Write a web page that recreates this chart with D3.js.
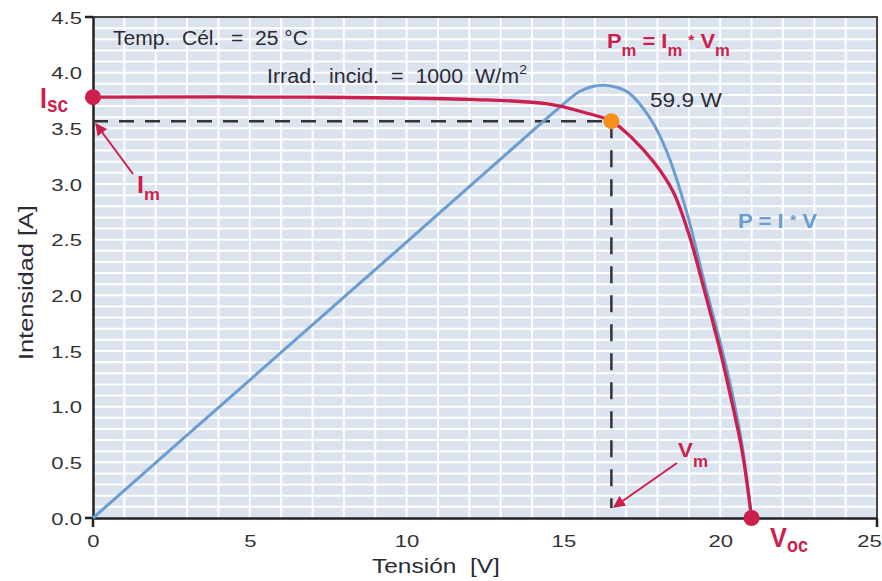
<!DOCTYPE html>
<html><head><meta charset="utf-8">
<script src="https://cdn.jsdelivr.net/npm/d3@7/dist/d3.min.js"></script>
<style>
html,body{margin:0;padding:0;background:#fff;}
svg{display:block;font-family:"Liberation Sans",Arial,Helvetica,sans-serif;}
text{white-space:pre;}
</style></head><body>
<svg id="chart" width="882" height="581"></svg>
<script>
// ---- data ----
const xTicks = [0, 5, 10, 15, 20, 25];
const yTicks = [0, 0.5, 1.0, 1.5, 2.0, 2.5, 3.0, 3.5, 4.0, 4.5];
// I-V curve (red): voltage [V], current [A]
const ivVoltage = [0, 7, 12, 14.5, 15.7, 16.53, 17.2, 17.9, 18.5, 19.0, 19.5, 20.0, 20.35, 20.7, 21.0];
const ivCurrent = [3.78, 3.78, 3.76, 3.72, 3.64, 3.564, 3.41, 3.19, 2.93, 2.55, 2.04, 1.50, 1.07, 0.60, 0];
// P-V curve (blue): voltage [V], power [W]
const pvVoltage = [0, 5, 10, 13.6, 14.87, 15.5, 15.9, 16.3, 16.7, 17.1, 17.74, 18.28, 18.92, 19.5, 20.0, 20.35, 20.7, 21.0];
const pvPower = [0, 19.1, 38.2, 52.0, 56.8, 59.0, 59.7, 59.9, 59.6, 58.8, 55.5, 50.9, 42.5, 32.5, 24.3, 17.9, 10.0, 0];
const powerPerAmpUnit = 15.41; // W drawn per unit of the current axis
const Isc = 3.78, Voc = 21.0, Im = 3.564, Vm = 16.53, Pmax = 59.9;

const RED = "#cc1f4e", BLUE = "#6c9dd0", ORANGE = "#f7901e", TXT = "#2b2b36";
const SX = 1.3; // horizontal stretch of the lettering

const svg = d3.select("#chart");
const x = d3.scaleLinear().domain([0, 25]).range([93, 877]);
const y = d3.scaleLinear().domain([0, 4.5]).range([518, 17]);
const yP = d3.scaleLinear().domain([0, 4.5 * powerPerAmpUnit]).range([518, 17]);

// background
svg.append("rect").attr("x", x(0)).attr("y", y(4.5)).attr("width", x(25) - x(0)).attr("height", y(0) - y(4.5)).attr("fill", "#dbe3ee");
// grid
const g = svg.append("g");
g.selectAll("line.v").data(d3.range(1, 25)).join("line")
  .attr("x1", d => x(d)).attr("x2", d => x(d)).attr("y1", y(0)).attr("y2", y(4.5))
  .attr("stroke", "#fff").attr("stroke-width", 2);
g.selectAll("line.h").data(d3.range(1, 45).map(d => d / 10)).join("line")
  .attr("y1", d => y(d)).attr("y2", d => y(d)).attr("x1", x(0)).attr("x2", x(25))
  .attr("stroke", "#fff").attr("stroke-width", 2);

// frame
svg.append("line").attr("x1", x(0)).attr("x2", x(25) + 1).attr("y1", y(4.5)).attr("y2", y(4.5)).attr("stroke", "#444").attr("stroke-width", 2);
svg.append("line").attr("x1", x(25)).attr("x2", x(25)).attr("y1", y(4.5)).attr("y2", y(0)).attr("stroke", "#444").attr("stroke-width", 2);

// axes
const ax = svg.append("g").attr("transform", `translate(0,${y(0)})`)
  .call(d3.axisBottom(x).tickValues(xTicks).tickSize(0).tickFormat(d3.format("d")));
const ay = svg.append("g").attr("transform", `translate(${x(0)},0)`)
  .call(d3.axisLeft(y).tickValues(yTicks).tickSize(0).tickFormat(d3.format(".1f")));
[ax, ay].forEach(a => {
  a.select(".domain").attr("stroke", "#222").attr("stroke-width", 2.5);
  a.selectAll("text").attr("font-size", 17).attr("fill", "#333").attr("font-family", "Liberation Sans, Arial, sans-serif");
});
ax.selectAll(".tick text").attr("y", 0).attr("dy", 0)
  .attr("transform", d => `translate(${d === 25 ? -8 : 0},29) scale(${SX},1)`);
ay.selectAll(".tick text").attr("x", 0).attr("dy", "0.36em")
  .attr("transform", `translate(-11,0) scale(${SX},1)`);

// end ticks
[0, 25].forEach(v => svg.append("line").attr("x1", x(v)).attr("x2", x(v)).attr("y1", y(0)).attr("y2", y(0) + 9).attr("stroke", "#222").attr("stroke-width", 2.5));
[0, 4.5].forEach(v => svg.append("line").attr("x1", x(0) - 8).attr("x2", x(0)).attr("y1", y(v)).attr("y2", y(v)).attr("stroke", "#222").attr("stroke-width", 2.5));

// text helper: parts = [{t, size, dy}], stretched horizontally to targetW
function label(parts, x0, y0, targetW, color, weight, rotate) {
  const grp = svg.append("g");
  const tx = grp.append("text").attr("fill", color).attr("font-weight", weight || "normal");
  parts.forEach(p => tx.append("tspan").attr("font-size", p.size).attr("dy", p.dy || 0).text(p.t));
  const w = tx.node().getBBox().width;
  const s = targetW / w;
  grp.attr("transform", `translate(${x0},${y0})${rotate ? " rotate(" + rotate + ")" : ""} scale(${s},1)`);
  return grp;
}

// axis titles
label([{t: "Tensión  [V]", size: 21}], 372, 573, 128, TXT);
label([{t: "Intensidad [A]", size: 20}], 33, 360, 155, TXT, "normal", -90);

// dashed guides
svg.append("line").attr("x1", x(0)).attr("x2", x(Vm)).attr("y1", y(Im)).attr("y2", y(Im))
  .attr("stroke", "#333").attr("stroke-width", 2.5).attr("stroke-dasharray", "15,11");
svg.append("line").attr("x1", x(Vm)).attr("x2", x(Vm)).attr("y1", y(Im)).attr("y2", y(0.09))
  .attr("stroke", "#333").attr("stroke-width", 2.5).attr("stroke-dasharray", "17,12");

// curves
const pvData = pvVoltage.map((v, i) => [v, pvPower[i]]);
const ivData = ivVoltage.map((v, i) => [v, ivCurrent[i]]);
svg.append("path").datum(pvData).attr("fill", "none").attr("stroke", BLUE).attr("stroke-width", 3)
  .attr("d", d3.line().x(d => x(d[0])).y(d => yP(d[1])).curve(d3.curveCatmullRom.alpha(0.5)));
svg.append("path").datum(ivData).attr("fill", "none").attr("stroke", RED).attr("stroke-width", 3.3)
  .attr("d", d3.line().x(d => x(d[0])).y(d => y(d[1])).curve(d3.curveCatmullRom.alpha(0.5)));

// points
svg.append("circle").attr("cx", x(0)).attr("cy", y(Isc)).attr("r", 8).attr("fill", RED);
svg.append("circle").attr("cx", x(Voc)).attr("cy", y(0)).attr("r", 8).attr("fill", RED);
svg.append("circle").attr("cx", x(Vm)).attr("cy", y(Im)).attr("r", 8).attr("fill", ORANGE);

// arrows
const defs = svg.append("defs");
defs.append("marker").attr("id", "ah").attr("viewBox", "0 0 10 10").attr("refX", 9).attr("refY", 5)
  .attr("markerWidth", 6).attr("markerHeight", 6).attr("orient", "auto")
  .append("path").attr("d", "M0,0 L10,5 L0,10 z").attr("fill", RED);
svg.append("line").attr("x1", 133).attr("y1", 174).attr("x2", 96).attr("y2", 124)
  .attr("stroke", RED).attr("stroke-width", 2).attr("marker-end", "url(#ah)");
svg.append("line").attr("x1", 677).attr("y1", 463).attr("x2", 614).attr("y2", 507)
  .attr("stroke", RED).attr("stroke-width", 2).attr("marker-end", "url(#ah)");

// annotations
label([{t: "Temp.  Cél.  =  25 °C", size: 20}], 113, 45, 195, TXT);
label([{t: "Irrad.  incid.  =  1000  W/m", size: 20}, {t: "2", size: 13, dy: -9}], 267, 83, 260, TXT);
label([{t: "59.9 W", size: 20}], 650, 107, 72, TXT);
label([{t: "P", size: 21}, {t: "m", size: 16, dy: 8}, {t: " = I", size: 21, dy: -8}, {t: "m", size: 16, dy: 8},
       {t: " ", size: 21, dy: -8}, {t: "*", size: 15, dy: -3}, {t: " V", size: 21, dy: 3}, {t: "m", size: 16, dy: 8}],
      607, 48, 123, RED, "bold");
label([{t: "P = I ", size: 21}, {t: "*", size: 15, dy: -3}, {t: " V", size: 21, dy: 3}], 738, 228, 79, BLUE, "bold");
label([{t: "I", size: 29}, {t: "sc", size: 22, dy: 4}], 40, 108, 28, RED, "bold");
label([{t: "I", size: 24}, {t: "m", size: 17, dy: 7}], 137, 193, 23, RED, "bold");
label([{t: "V", size: 21}, {t: "m", size: 16, dy: 10}], 678, 457, 30, RED, "bold");
label([{t: "V", size: 28}, {t: "oc", size: 20, dy: 5}], 770, 547, 38, RED, "bold");
</script>
</body></html>
